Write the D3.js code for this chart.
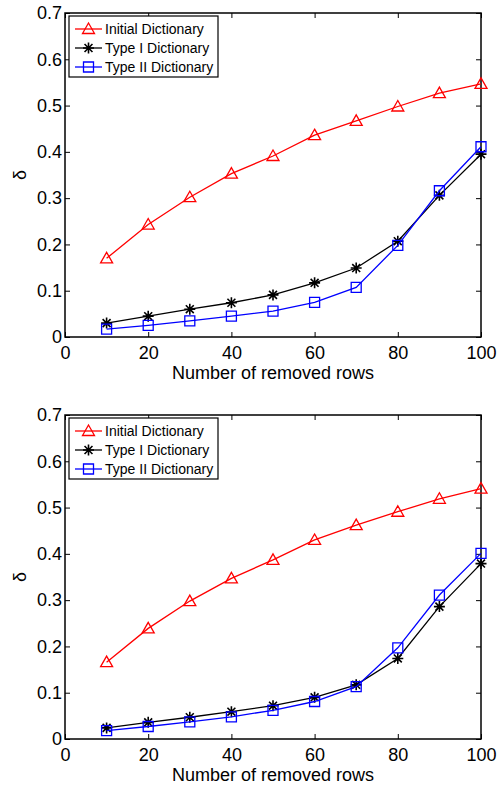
<!DOCTYPE html>
<html>
<head>
<meta charset="utf-8">
<script src="https://cdn.jsdelivr.net/npm/d3@7"></script>
<style>
    body { margin: 0; background: #fff; }
    text { font-family: "Liberation Sans", Arial, sans-serif; }
</style>
</head>
<body>
<script>
// removed rows on x
var rows = [10, 20, 30, 40, 50, 60, 70, 80, 90, 100];
var xTicks = [0, 20, 40, 60, 80, 100];
var yTicks = [0, 0.1, 0.2, 0.3, 0.4, 0.5, 0.6, 0.7];
var seriesNames = ["Initial Dictionary", "Type I Dictionary", "Type II Dictionary"];

// upper panel
var topInitial = [0.170, 0.243, 0.302, 0.353, 0.391, 0.436, 0.467, 0.498, 0.527, 0.547];
var topTypeI = [0.030, 0.045, 0.060, 0.074, 0.091, 0.117, 0.149, 0.207, 0.306, 0.395];
var topTypeII = [0.017, 0.025, 0.035, 0.045, 0.056, 0.075, 0.107, 0.198, 0.316, 0.411];

// lower panel
var botInitial = [0.166, 0.239, 0.298, 0.347, 0.387, 0.430, 0.462, 0.491, 0.519, 0.541];
var botTypeI = [0.024, 0.036, 0.047, 0.059, 0.072, 0.090, 0.117, 0.174, 0.286, 0.379];
var botTypeII = [0.018, 0.027, 0.037, 0.048, 0.062, 0.081, 0.113, 0.197, 0.311, 0.401];

var W = 503, H = 785;
var svg = d3.select("body").append("svg")
    .attr("width", W)
    .attr("height", H);

var styles = [
    {color: "#ff0000", marker: "triangle"},
    {color: "#000000", marker: "star"},
    {color: "#0000ff", marker: "square"}
];

function markerPath(type) {
    var p = d3.path();
    if (type === "triangle") {
        p.moveTo(0, -6); p.lineTo(6, 4.5); p.lineTo(-6, 4.5); p.closePath();
    } else if (type === "square") {
        p.rect(-5, -5, 10, 10);
    } else {
        var r = 5.5;
        p.moveTo(-r, 0); p.lineTo(r, 0);
        p.moveTo(0, -r); p.lineTo(0, r);
        p.moveTo(-r * 0.72, -r * 0.72); p.lineTo(r * 0.72, r * 0.72);
        p.moveTo(-r * 0.72, r * 0.72); p.lineTo(r * 0.72, -r * 0.72);
    }
    return p.toString();
}

function drawPanel(top, seriesValues) {
    var left = 65, right = 481, plotH = 324;
    var x = d3.scaleLinear().domain([0, 100]).range([left, right]);
    var y = d3.scaleLinear().domain([0, 0.7]).range([top + plotH, top]);
    var g = svg.append("g");

    // inward ticks on all four sides
    g.append("g").attr("transform", "translate(0," + (top + plotH) + ")")
        .call(d3.axisBottom(x).tickValues(xTicks).tickSizeInner(-5).tickSizeOuter(0).tickPadding(9)
            .tickFormat(d3.format("d")));
    g.append("g").attr("transform", "translate(0," + top + ")")
        .call(d3.axisTop(x).tickValues(xTicks).tickSizeInner(-5).tickSizeOuter(0).tickFormat(""));
    g.append("g").attr("transform", "translate(" + left + ",0)")
        .call(d3.axisLeft(y).tickValues(yTicks).tickSizeInner(-5).tickSizeOuter(0).tickPadding(3)
            .tickFormat(function (d) { return d === 0 ? "0" : d3.format(".1f")(d); }));
    g.append("g").attr("transform", "translate(" + right + ",0)")
        .call(d3.axisRight(y).tickValues(yTicks).tickSizeInner(-5).tickSizeOuter(0).tickFormat(""));

    g.selectAll(".domain").remove();
    g.selectAll(".tick line").attr("stroke", "#000").attr("stroke-width", 1);
    g.selectAll(".tick text").attr("fill", "#000").style("font-size", "18px")
        .style("font-family", "'Liberation Sans', Arial, sans-serif");

    g.append("rect")
        .attr("x", left).attr("y", top)
        .attr("width", right - left).attr("height", plotH)
        .attr("fill", "none").attr("stroke", "#000").attr("stroke-width", 1.5);

    var line = d3.line()
        .x(function (d, i) { return x(rows[i]); })
        .y(function (d) { return y(d); });

    seriesValues.forEach(function (vals, k) {
        var st = styles[k];
        g.append("path")
            .datum(vals)
            .attr("d", line)
            .attr("fill", "none")
            .attr("stroke", st.color)
            .attr("stroke-width", 1.3);
        g.selectAll(".m" + k)
            .data(vals)
            .enter().append("path")
            .attr("transform", function (d, i) { return "translate(" + x(rows[i]) + "," + y(d) + ")"; })
            .attr("d", markerPath(st.marker))
            .attr("fill", "none")
            .attr("stroke", st.color)
            .attr("stroke-width", st.marker === "star" ? 1.6 : 1.3);
    });

    // axis labels
    g.append("text")
        .attr("x", (left + right) / 2)
        .attr("y", top + plotH + 42)
        .attr("text-anchor", "middle")
        .style("font-size", "18px")
        .text("Number of removed rows");
    g.append("text")
        .attr("transform", "translate(26," + (top + plotH / 2) + ") rotate(-90)")
        .attr("text-anchor", "middle")
        .style("font-size", "18px")
        .text("δ");

    // legend
    var lg = g.append("g").attr("transform", "translate(69," + (top + 3) + ")");
    lg.append("rect")
        .attr("width", 149).attr("height", 61)
        .attr("fill", "#fff").attr("stroke", "#000").attr("stroke-width", 1.2);
    seriesNames.forEach(function (name, k) {
        var st = styles[k];
        var cy = 13 + k * 19;
        lg.append("line")
            .attr("x1", 6).attr("x2", 33).attr("y1", cy).attr("y2", cy)
            .attr("stroke", st.color).attr("stroke-width", 1.3);
        lg.append("path")
            .attr("transform", "translate(19.5," + cy + ")")
            .attr("d", markerPath(st.marker))
            .attr("fill", "none").attr("stroke", st.color)
            .attr("stroke-width", st.marker === "star" ? 1.6 : 1.3);
        lg.append("text")
            .attr("x", 36).attr("y", cy + 5)
            .style("font-size", "14px")
            .text(name);
    });
}

drawPanel(13, [topInitial, topTypeI, topTypeII]);
drawPanel(415, [botInitial, botTypeI, botTypeII]);
</script>
</body>
</html>
